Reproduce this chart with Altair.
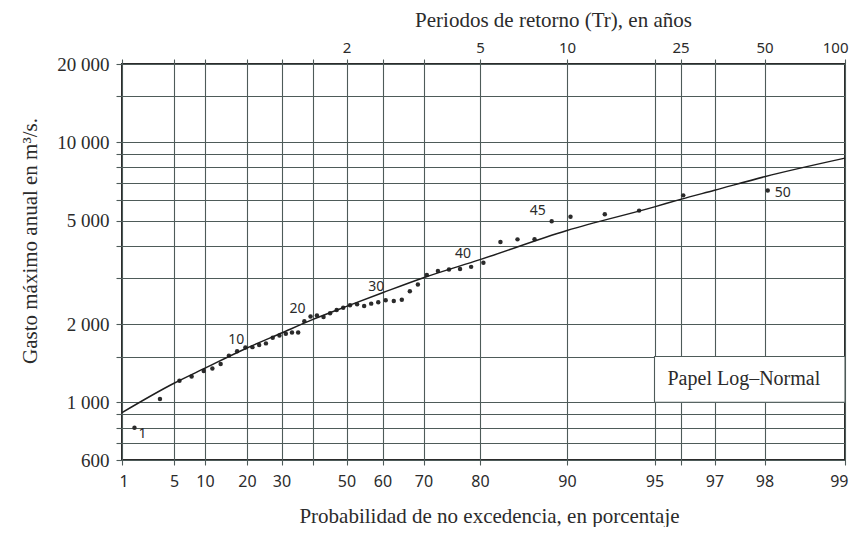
import altair as alt
import pandas as pd

# ---------------- data ----------------
rank = list(range(1, 51))
# plotting positions (probability of non-exceedance, %)
prob = [1.96, 3.92, 5.88, 7.84, 9.80, 11.76, 13.73, 15.69, 17.65, 19.61,
        21.57, 23.53, 25.49, 27.45, 29.41, 31.37, 33.33, 35.29, 37.25, 39.22,
        41.18, 43.14, 45.10, 47.06, 49.02, 50.98, 52.94, 54.90, 56.86, 58.82,
        60.78, 62.75, 64.71, 66.67, 68.63, 70.59, 72.55, 74.51, 76.47, 78.43,
        80.39, 82.35, 84.31, 86.27, 88.24, 90.20, 92.16, 94.12, 96.08, 98.04]
flow = [799, 1030, 1211, 1258, 1320, 1350, 1405, 1512, 1572, 1625,
        1630, 1660, 1685, 1770, 1807, 1834, 1856, 1856, 2052, 2140,
        2159, 2127, 2200, 2265, 2310, 2360, 2381, 2346, 2396, 2424,
        2467, 2452, 2482, 2673, 2838, 3085, 3202, 3240, 3258, 3318,
        3440, 4135, 4233, 4240, 4974, 5170, 5290, 5460, 6249, 6522]

curve_prob = [1, 5, 10, 20, 30, 40, 50, 60, 70, 80, 90, 95, 96, 97, 98, 99]
curve_flow = [913, 1184, 1353, 1617, 1847, 2084, 2339, 2638, 3014, 3538,
              4579, 5643, 6032, 6537, 7370, 8690]

grid_prob = [1, 5, 10, 20, 30, 40, 50, 60, 70, 80, 90, 95, 96, 97, 98, 99]
bottom_label_prob = [1, 5, 10, 20, 30, 50, 60, 70, 80, 90, 95, 97, 98, 99]
top_label_prob = [50, 80, 90, 96, 98, 99]
top_label_text = ["2", "5", "10", "25", "50", "100"]

grid_flow = [600, 700, 800, 900, 1000, 1500, 2000, 3000, 4000, 5000, 6000,
             7000, 8000, 9000, 10000, 15000, 20000]
label_flow = [600, 1000, 2000, 5000, 10000, 20000]
label_flow_text = ["600", "1 000", "2 000", "5 000", "10 000", "20 000"]

point_labels = [1, 10, 20, 30, 40, 45, 50]

legend_prob = [95, 99]
legend_flow = [1000, 1500]
legend_text = "Papel Log\u2013Normal"

# ---------------- style ----------------
INK = "#2b2b2b"
GRID = "#4e5b59"
SERIF = "Liberation Serif"
SANS = "Noto Sans"
W, H = 723, 396
# non-uniform ruling of the probability paper (pixel position of each grid value)
paper_ruling = [0, 52, 83, 125, 159.5, 191, 224.5, 260.5, 301.5, 358, 445,
                532.5, 558.5, 592.5, 642.5, 723]
label_offsets = {1: (8, 6), 10: (-9, -7), 20: (-13, -7), 30: (-2, -15),
                 40: (-8, -13), 45: (-14, -10), 50: (15, 2)}

points_df = pd.DataFrame({"rank": rank, "p": prob, "q": flow})
curve_df = pd.DataFrame({"p": curve_prob, "q": curve_flow})
box_df = pd.DataFrame({"p": [legend_prob[0]], "p2": [legend_prob[1]],
                       "q": [legend_flow[0]], "q2": [legend_flow[1]],
                       "txt": [legend_text]})


def ternary(values, texts):
    expr = "''"
    for v, t in reversed(list(zip(values, texts))):
        expr = f"datum.value == {v} ? '{t}' : ({expr})"
    return expr


xscale = alt.Scale(type="linear", domain=grid_prob, range=paper_ruling,
                   nice=False, zero=False)
yscale = alt.Scale(type="log", domain=[600, 20000], nice=False)

bottom_axis = alt.Axis(
    values=grid_prob,
    labelExpr=ternary(bottom_label_prob, [str(v) for v in bottom_label_prob]),
    grid=True, gridColor=GRID, gridWidth=1.1, gridOpacity=1,
    domain=False, ticks=True, tickSize=5, tickColor=GRID, tickWidth=1.1,
    labelFont=SANS, labelFontSize=16, labelColor=INK, labelPadding=8,
    labelOverlap=False, labelFlush=True, labelFlushOffset=3, labelBound=False,
    title="Probabilidad de no excedencia, en porcentaje",
    titleFont=SERIF, titleFontSize=21, titleFontWeight="normal", titleColor=INK,
    titleX=367, titleY=62, titleBaseline="alphabetic", titleAlign="center",
)
top_axis = alt.Axis(
    orient="top",
    values=grid_prob,
    labelExpr=ternary(top_label_prob, top_label_text),
    grid=False, domain=False, ticks=True, tickSize=5, tickColor=GRID,
    tickWidth=1.1,
    labelFont=SANS, labelFontSize=15, labelColor=INK, labelPadding=7,
    labelBaseline="alphabetic",
    labelOverlap=False, labelFlush=True, labelFlushOffset=3, labelBound=False,
    title="Periodos de retorno (Tr), en a\u00f1os",
    titleFont=SERIF, titleFontSize=21, titleFontWeight="normal", titleColor=INK,
    titleX=431, titleY=-38, titleBaseline="alphabetic", titleAlign="center",
)
y_axis = alt.Axis(
    values=grid_flow,
    labelExpr=ternary(label_flow, label_flow_text),
    grid=True, gridColor=GRID, gridWidth=1.1, gridOpacity=1,
    domain=False, ticks=True, tickSize=6, tickColor=GRID, tickWidth=1.1,
    labelFont=SERIF, labelFontSize=19, labelColor=INK, labelPadding=7,
    labelOverlap=False, labelBound=False, labelFlush=False,
    title="Gasto m\u00e1ximo anual en m\u00b3/s.",
    titleFont=SERIF, titleFontSize=21, titleFontWeight="normal", titleColor=INK,
    titleX=-86, titleY=176.5, titleAngle=270, titleBaseline="alphabetic",
    titleAlign="center",
)

x_enc = alt.X("p:Q", scale=xscale, axis=bottom_axis)
y_enc = alt.Y("q:Q", scale=yscale, axis=y_axis)

box = alt.Chart(box_df).mark_rect(fill="white", stroke=GRID, strokeWidth=1.1).encode(
    x=x_enc, x2="p2:Q", y=y_enc, y2="q2:Q")

box_label = alt.Chart(box_df).transform_calculate(
    qm="sqrt(datum.q * datum.q2)"
).mark_text(align="left", baseline="middle", dx=13, font=SERIF, fontSize=20,
            color=INK).encode(
    x=x_enc, y=alt.Y("qm:Q", scale=yscale, axis=y_axis), text="txt:N")

points = alt.Chart(points_df).mark_circle(size=20, color=INK, opacity=1).encode(
    x=x_enc, y=y_enc)

labels = []
for r in point_labels:
    dx, dy = label_offsets[r]
    labels.append(
        alt.Chart(points_df).transform_filter(alt.datum.rank == r)
        .mark_text(align="center", baseline="middle", dx=dx, dy=dy,
                   font=SANS, fontSize=14, color=INK)
        .encode(x=x_enc, y=y_enc, text="rank:N")
    )

inner = alt.layer(box, points, *labels, box_label)

curve = alt.Chart(curve_df).mark_line(color="#1e1e1e", strokeWidth=1.5,
                                      interpolate="monotone").encode(
    x=alt.X("p:Q", scale=xscale, axis=top_axis), y=y_enc)

chart = alt.layer(inner, curve).resolve_scale(x="independent").properties(
    width=W, height=H,
    autosize=alt.AutoSizeParams(type="none"),
    padding={"left": 114, "top": 56, "right": 5, "bottom": 67},
    background="white",
).configure_view(stroke="#2b2b2b", strokeWidth=2)

chart.save("out.html", embed_options={"renderer": "svg", "actions": False})
